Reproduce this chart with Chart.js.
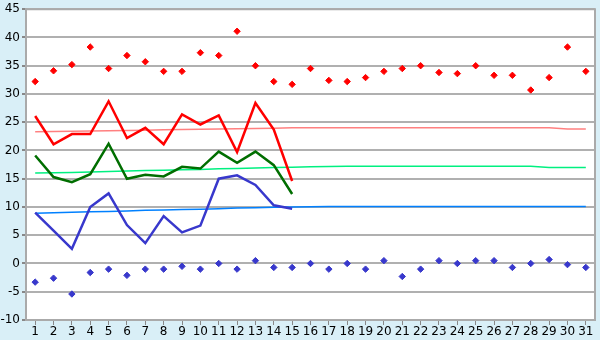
<!DOCTYPE html>
<html>
<head>
<meta charset="utf-8">
<script src="https://cdn.jsdelivr.net/npm/chart.js@4"></script>
<style>
  html, body { margin: 0; padding: 0; background: #d9eff7; }
  #wrap { width: 600px; height: 340px; }
</style>
</head>
<body>
<div id="wrap"><canvas id="chart" width="600" height="340"></canvas></div>
<script>
const days = ['1','2','3','4','5','6','7','8','9','10','11','12','13','14','15','16',
  '17','18','19','20','21','22','23','24','25','26','27','28','29','30','31'];

// daily extremes (points)
const maxPoints = [32.2,34.1,35.2,38.3,34.5,36.8,35.7,34.0,34.0,37.3,36.8,41.1,35.0,32.2,31.7,
  34.5,32.4,32.2,32.9,34.0,34.5,35.0,33.8,33.6,35.0,33.3,33.3,30.7,32.9,38.3,34.0];
const minPoints = [-3.3,-2.6,-5.4,-1.6,-1.0,-2.1,-1.0,-1.0,-0.5,-1.0,0.0,-1.0,0.5,-0.7,-0.7,
  0.0,-1.0,0.0,-1.0,0.5,-2.3,-1.0,0.5,0.0,0.5,0.5,-0.7,0.0,0.7,-0.2,-0.7];

// measured lines, first 15 days
const maxLine = [26.1,21.1,22.9,22.9,28.7,22.2,24.0,21.1,26.4,24.6,26.2,19.7,28.4,23.7,14.6];
const meanLine = [19.1,15.3,14.4,15.8,21.2,15.0,15.7,15.4,17.1,16.8,19.8,17.8,19.8,17.4,12.3];
const minLine = [9.0,5.8,2.6,10.0,12.4,6.8,3.6,8.4,5.5,6.7,15.0,15.6,13.9,10.3,9.7];

// normals
const maxNormal = [23.3,23.35,23.4,23.45,23.5,23.55,23.6,23.65,23.7,23.75,23.8,23.85,23.9,23.95,24.0,24.0,
  24.0,24.0,24.0,24.0,24.0,24.0,24.0,24.0,24.0,24.0,24.0,24.0,24.0,23.8,23.8];
const meanNormal = [16.0,16.05,16.1,16.2,16.3,16.35,16.45,16.5,16.6,16.65,16.75,16.8,16.9,17.0,17.05,17.1,
  17.15,17.2,17.2,17.2,17.2,17.2,17.2,17.2,17.2,17.2,17.2,17.2,17.0,17.0,17.0];
const minNormal = [8.9,9.0,9.05,9.15,9.2,9.3,9.4,9.45,9.55,9.6,9.7,9.8,9.85,9.95,10.0,10.05,
  10.1,10.1,10.1,10.1,10.1,10.1,10.1,10.1,10.1,10.1,10.1,10.1,10.1,10.1,10.1];

const yTicks = [-10,-5,0,5,10,15,20,25,30,35,40,45];

const plotFrame = {
  id: 'plotFrame',
  beforeDraw(chart) {
    const {ctx, chartArea: a} = chart;
    ctx.save();
    ctx.fillStyle = '#ffffff';
    ctx.fillRect(a.left, a.top, a.right - a.left, a.bottom - a.top);
    ctx.restore();
  },
  afterDraw(chart) {
    const {ctx, chartArea: a} = chart;
    ctx.save();
    ctx.strokeStyle = '#aaaaaa';
    ctx.lineWidth = 2;
    ctx.beginPath();
    ctx.moveTo(a.left, a.top);
    ctx.lineTo(a.right, a.top);
    ctx.lineTo(a.right, a.bottom);
    ctx.stroke();
    ctx.restore();
  }
};

const line = (data, color, width) => ({
  data, borderColor: color, backgroundColor: color, borderWidth: width,
  pointRadius: 0, tension: 0, spanGaps: false
});
const dots = (data, color) => ({
  data, borderColor: color, backgroundColor: color, showLine: false,
  pointStyle: 'rectRot', pointRadius: 3.2, borderWidth: 1
});

new Chart(document.getElementById('chart'), {
  type: 'line',
  data: {
    labels: days,
    datasets: [
      dots(maxPoints, '#ff0000'),
      dots(minPoints, '#3838cc'),
      line(maxLine, '#ff0000', 2.5),
      line(meanLine, '#006e00', 2.5),
      line(minLine, '#3838cc', 2.5),
      line(maxNormal, '#ff8080', 1.5),
      line(meanNormal, '#00f080', 1.5),
      line(minNormal, '#0080ff', 1.5)
    ]
  },
  options: {
    responsive: false,
    animation: false,
    layout: { padding: { top: 5, right: 5, left: 0, bottom: 0 } },
    plugins: { legend: { display: false }, tooltip: { enabled: false } },
    scales: {
      x: {
        offset: true,
        grid: { offset: false, drawOnChartArea: false, color: '#888888', tickLength: 5 },
        border: { color: '#aaaaaa', width: 2 },
        ticks: { color: '#000', font: { family: 'DejaVu Sans', size: 12 }, padding: 0, maxRotation: 0, autoSkip: false },
        afterFit(scale) { scale.height = 20; }
      },
      y: {
        min: -10,
        max: 45,
        afterBuildTicks(scale) { scale.ticks = yTicks.map(v => ({ value: v })); },
        grid: { color: '#b0b0b0', lineWidth: 2, tickLength: 4, tickColor: '#888888' },
        border: { color: '#aaaaaa', width: 2 },
        ticks: { color: '#000', font: { family: 'DejaVu Sans', size: 12 }, padding: 2 },
        afterFit(scale) { scale.width = 26; }
      }
    }
  },
  plugins: [plotFrame]
});
</script>
</body>
</html>
